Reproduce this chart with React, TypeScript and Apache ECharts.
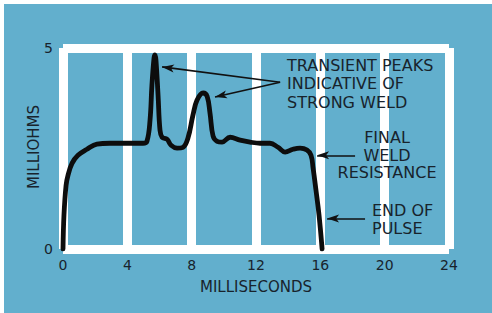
import React, { useEffect, useRef } from "react";
import * as echarts from "echarts";

// time in milliseconds
const times = [
  0, 0.06, 0.19, 0.31, 0.56, 0.93, 1.49, 2.11, 2.92, 4.17, 4.98, 5.22, 5.41, 5.53, 5.66, 5.72, 5.78,
  5.91, 6.03, 6.16, 6.47, 6.72, 7.09, 7.46, 7.77, 8.08, 8.33, 8.71, 8.96, 9.14, 9.33, 9.58, 9.89,
  10.39, 11.01, 11.63, 12.25, 12.87, 13.37, 13.81, 14.3, 14.74, 15.17, 15.42, 15.55, 15.73, 15.92,
  16.11,
];
// resistance in milliohms
const resistance = [
  0, 0.84, 1.58, 1.83, 2.13, 2.33, 2.48, 2.61, 2.63, 2.63, 2.63, 2.68, 3.2, 4.08, 4.75, 4.83, 4.7,
  3.83, 2.96, 2.78, 2.73, 2.58, 2.51, 2.53, 2.76, 3.33, 3.7, 3.88, 3.8, 3.38, 2.81, 2.68, 2.66,
  2.78, 2.71, 2.66, 2.63, 2.63, 2.53, 2.41, 2.48, 2.51, 2.46, 2.33, 2.01, 1.46, 0.84, 0,
];

const xTicks = [0, 4, 8, 12, 16, 20, 24];
const yTicks = [0, 5];

const xTitle = "MILLISECONDS";
const yTitle = "MILLIOHMS";
const peaksNote = ["TRANSIENT PEAKS", "INDICATIVE OF", "STRONG WELD"];
const finalNote = ["FINAL", "WELD", "RESISTANCE"];
const endNote = ["END OF", "PULSE"];

// arrows, in data units: [from, to]
const arrows: [number, number][][] = [
  [[13.5, 4.15], [6.16, 4.53]],
  [[13.5, 4.15], [9.45, 3.78]],
  [[18.16, 2.33], [15.8, 2.33]],
  [[18.78, 0.76], [16.42, 0.76]],
];

const BLUE = "#62afcd";
const INK = "#18232c";
const FONT = "DejaVu Sans";

export default function App() {
  const ref = useRef<HTMLDivElement>(null);
  useEffect(() => {
    if (!ref.current) return;
    const chart = echarts.init(ref.current, undefined, { renderer: "svg" });
    const data = times.map((t, i) => [t, resistance[i]]);
    chart.setOption({
      animation: false,
      backgroundColor: BLUE,
      grid: { left: 59, top: 44, right: 43, bottom: 64 },
      xAxis: {
        type: "value",
        min: xTicks[0],
        max: xTicks[xTicks.length - 1],
        interval: xTicks[1] - xTicks[0],
        name: xTitle,
        nameLocation: "middle",
        nameGap: 30,
        nameTextStyle: { color: INK, fontFamily: FONT, fontSize: 15 },
        axisLine: { show: false },
        axisTick: { show: false },
        axisLabel: { color: INK, fontFamily: FONT, fontSize: 14, margin: 9 },
        splitLine: { show: true, lineStyle: { color: "#ffffff", width: 9 } },
      },
      yAxis: {
        type: "value",
        min: yTicks[0],
        max: yTicks[1],
        interval: yTicks[1] - yTicks[0],
        axisLine: { show: false },
        axisTick: { show: false },
        axisLabel: { color: INK, fontFamily: FONT, fontSize: 14, margin: 10 },
        splitLine: { show: true, lineStyle: { color: "#ffffff", width: 9 } },
      },
      series: [
        {
          type: "line",
          data,
          smooth: 0.4,
          symbol: "none",
          lineStyle: { color: "#0d0d0d", width: 4.8, cap: "round", join: "round" },
          markLine: {
            silent: true,
            symbol: ["none", "arrow"],
            symbolSize: [6, 12],
            label: { show: false },
            lineStyle: { color: "#111", width: 1.6, type: "solid" },
            data: arrows.map((a) => [{ coord: a[0] }, { coord: a[1] }]),
          },
        },
      ],
      graphic: [
        {
          type: "text",
          x: 30,
          y: 143,
          rotation: Math.PI / 2,
          z: 100,
          style: {
            text: yTitle,
            fill: INK,
            font: `15px "${FONT}"`,
            align: "center",
            verticalAlign: "middle",
          },
        },
        {
          type: "text",
          left: 283,
          top: 52,
          z: 100,
          style: {
            text: peaksNote.join("\n"),
            fill: INK,
            font: `16px "${FONT}"`,
            lineHeight: 18.5,
            textAlign: "left",
          },
        },
        {
          type: "text",
          x: 383,
          y: 125,
          z: 100,
          style: {
            text: finalNote.join("\n"),
            fill: INK,
            font: `16px "${FONT}"`,
            lineHeight: 17.5,
            align: "center",
            verticalAlign: "top",
          },
        },
        {
          type: "text",
          left: 368,
          top: 197,
          z: 100,
          style: {
            text: endNote.join("\n"),
            fill: INK,
            font: `16px "${FONT}"`,
            lineHeight: 18,
            textAlign: "left",
          },
        },
      ],
    });
    return () => chart.dispose();
  }, []);
  return (
    <div style={{ position: "fixed", left: 0, top: 0, width: 492, height: 313, background: "#ffffff" }}>
      <div ref={ref} style={{ position: "absolute", left: 4, top: 4, width: 488, height: 309 }} />
    </div>
  );
}
